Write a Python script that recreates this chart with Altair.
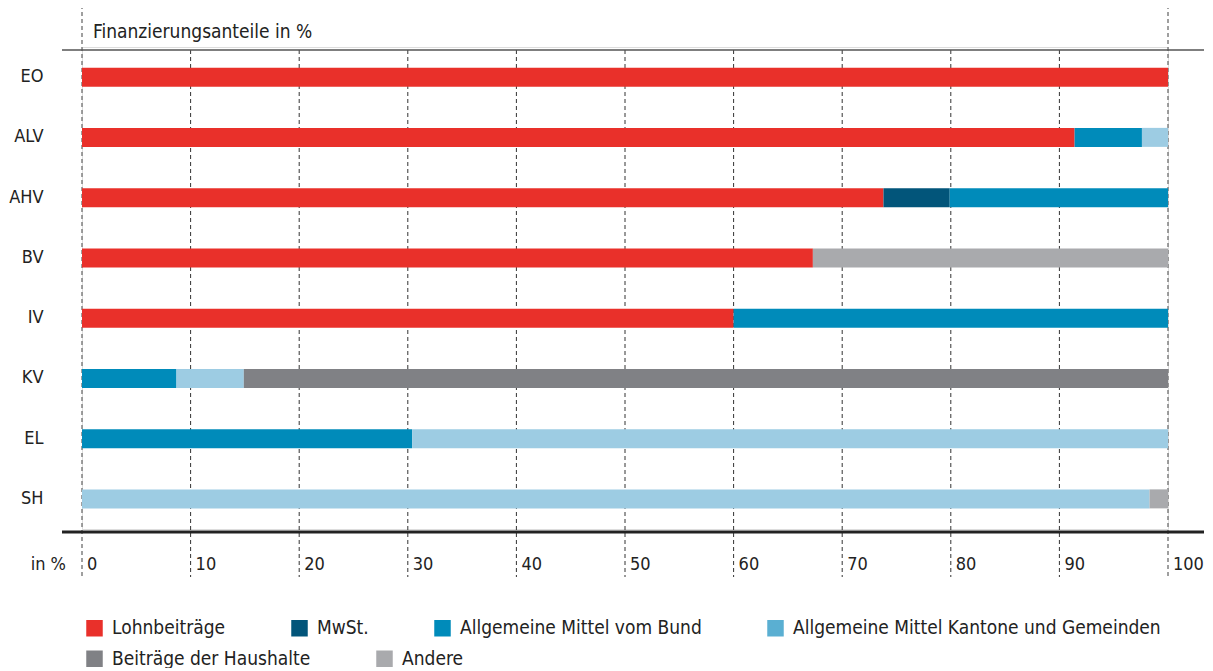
import altair as alt
import pandas as pd

categories = ["EO", "ALV", "AHV", "BV", "IV", "KV", "EL", "SH"]
series = ["Lohnbeiträge", "MwSt.", "Allgemeine Mittel vom Bund",
          "Allgemeine Mittel Kantone und Gemeinden", "Beiträge der Haushalte", "Andere"]
bar_colors = ["#E9302A", "#02557A", "#008BBA", "#9DCCE3", "#808185", "#A9AAAD"]
legend_colors = ["#E9302A", "#02557A", "#008BBA", "#5AAFD2", "#808185", "#A9AAAD"]

lohn = [100, 91.4, 73.8, 67.3, 60.0, 0, 0, 0]
mwst = [0, 0, 6.1, 0, 0, 0, 0, 0]
bund = [0, 6.2, 20.1, 0, 40.0, 8.7, 30.4, 0]
kantone = [0, 2.4, 0, 0, 0, 6.2, 69.6, 98.3]
haushalte = [0, 0, 0, 0, 0, 85.1, 0, 0]
andere = [0, 0, 0, 32.7, 0, 0, 0, 1.7]

ticks = [0, 10, 20, 30, 40, 50, 60, 70, 80, 90, 100]
tick_labels = ["0", "10", "20", "30", "40", "50", "60", "70", "80", "90", "100"]
header = "Finanzierungsanteile in %"
axis_unit = "in %"

FONT = "Liberation Sans Narrow, DejaVu Sans Condensed, sans-serif"
FS = 19
TXT = "#222222"
W, H = 1086, 482

rows = []
for si, (s, vals) in enumerate(zip(series, [lohn, mwst, bund, kantone, haushalte, andere])):
    for c, v in zip(categories, vals):
        if v > 0:
            rows.append({"cat": c, "series": s, "value": v, "idx": si})
df = pd.DataFrame(rows)
legend_df = pd.DataFrame({"series": series, "idx": list(range(len(series)))})

tick_df = pd.DataFrame({"v": ticks, "label": tick_labels})
inner_df = tick_df[(tick_df.v > 0) & (tick_df.v < 100)]
outer_df = tick_df[(tick_df.v == 0) | (tick_df.v == 100)]
one = pd.DataFrame({"a": [0]})

xscale = alt.Scale(domain=[0, 100], nice=False, zero=True)

grid_inner = alt.Chart(inner_df).mark_rule(color="#333333", strokeWidth=1, strokeDash=[4, 3]).encode(
    x=alt.X("v:Q", scale=xscale, axis=None),
    y=alt.value(3), y2=alt.value(530))
grid_outer = alt.Chart(outer_df).mark_rule(color="#808080", strokeWidth=1.5, strokeDash=[4, 3]).encode(
    x=alt.X("v:Q", scale=xscale, axis=None),
    y=alt.value(-42), y2=alt.value(530))

bars = alt.Chart(df).mark_bar(size=19).encode(
    x=alt.X("value:Q", stack="zero", scale=xscale, axis=None),
    y=alt.Y("cat:N", sort=categories, scale=alt.Scale(paddingInner=0, paddingOuter=0),
            axis=alt.Axis(title=None, domain=False, ticks=False, labelAlign="right",
                          labelPadding=39, labelFontSize=18, labelFont=FONT, labelColor=TXT)),
    fill=alt.Fill("series:N", scale=alt.Scale(domain=series, range=bar_colors), legend=None),
    order=alt.Order("idx:Q"))


def legend_layer(lo, hi, legend_y):
    sub = series[lo:hi]
    return alt.Chart(legend_df).transform_filter(
        (alt.datum.idx >= lo) & (alt.datum.idx < hi)
    ).mark_square(size=1, opacity=0).encode(
        x=alt.value(0), y=alt.value(0),
        color=alt.Color("series:N", sort=sub,
                        scale=alt.Scale(domain=sub, range=legend_colors[lo:hi]),
                        legend=alt.Legend(title=None, orient="none", legendX=3, legendY=legend_y,
                                          direction="horizontal", columnPadding=64,
                                          symbolType="square", symbolSize=272,
                                          symbolStrokeWidth=0, symbolOpacity=1,
                                          labelFontSize=FS, labelFont=FONT, labelColor=TXT,
                                          labelOffset=8, labelLimit=600, padding=0)),
    )


leg1 = legend_layer(0, 4, 571.5)
leg2 = legend_layer(4, 6, 602)

top_rule = alt.Chart(one).mark_rule(color="#555555", strokeWidth=1.5).encode(
    x=alt.value(-20), x2=alt.value(W + 36), y=alt.value(3))
bottom_rule = alt.Chart(one).mark_rule(color="#222222", strokeWidth=3).encode(
    x=alt.value(-20), x2=alt.value(W + 36), y=alt.value(485))

header_text = alt.Chart(one).mark_text(align="left", baseline="middle", fontSize=FS, font=FONT,
                                       color=TXT).encode(
    x=alt.value(11), y=alt.value(-15.5), text=alt.value(header))

tick_text = alt.Chart(tick_df).mark_text(align="left", baseline="middle", dx=5, fontSize=18,
                                         font=FONT, color=TXT).encode(
    x=alt.X("v:Q", scale=xscale, axis=None), y=alt.value(518), text="label:N")

unit_text = alt.Chart(one).mark_text(align="right", baseline="middle", fontSize=18, font=FONT,
                                     color=TXT).encode(
    x=alt.value(-16), y=alt.value(518), text=alt.value(axis_unit))

chart = alt.layer(grid_outer, grid_inner, top_rule, bottom_rule, bars, leg1, leg2, header_text,
                  tick_text, unit_text).resolve_scale(color="independent").resolve_legend(
    color="independent").properties(
    width=W, height=H,
    padding={"left": 74, "top": 39, "right": 36, "bottom": 139},
    autosize=alt.AutoSizeParams(type="none"),
).configure_view(stroke=None).configure(background="white")

chart.save("out.html", embed_options={"renderer": "svg", "actions": False})
